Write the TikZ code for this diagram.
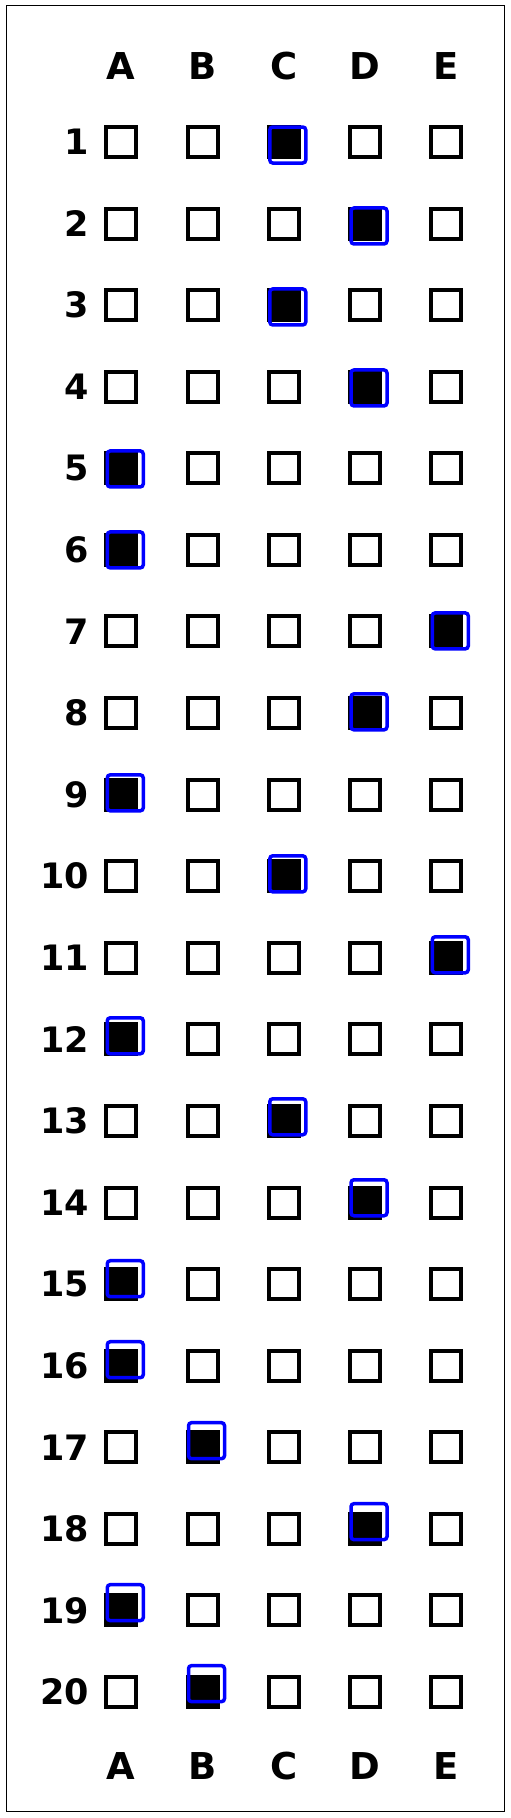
\documentclass[tikz,border=0pt]{standalone}
\usepackage{fontspec}
\setmainfont{DejaVu Sans}
\usetikzlibrary{calc}

\begin{document}
\begin{tikzpicture}[x=1pt,y=-1pt,
  optbox/.style={draw,line width=4pt,minimum size=30pt,inner sep=0pt},
  pickbox/.style={draw=blue,line width=3.5pt,rounded corners=3pt,minimum size=36pt,inner sep=0pt},
  letter/.style={font=\bfseries\fontsize{37}{40}\selectfont,inner sep=0pt},
  number/.style={font=\bfseries\fontsize{35}{40}\selectfont,inner sep=0pt,anchor=east}]
  \useasboundingbox (0,0) rectangle (511,1818);
  % Frame
  \draw[line width=1pt] (6,5.5) rectangle (504.5,1811.5);
  % Column letters, top and bottom
  \foreach \l [count=\c] in {A,B,C,D,E}{
    \node[letter] (top-\c) at (40+81.25*\c,66) {\l};
    \node[letter] (bot-\c) at (40+81.25*\c,1766) {\l};
  }
  % Rows: number and five boxes
  \foreach \r in {1,...,20}{
    \node[number] (num-\r) at (89,60.42+81.58*\r) {\r};
    \foreach \c in {1,...,5}
      \node[optbox] (box-\r-\c) at (40+81.25*\c,60.42+81.58*\r) {};
  }
  % Marked answers
  \foreach \r/\c in {1/3,2/4,3/3,4/4,5/1,6/1,7/5,8/4,9/1,10/3,
                     11/5,12/1,13/3,14/4,15/1,16/1,17/2,18/4,19/1,20/2}{
    \fill (box-\r-\c.south west) rectangle (box-\r-\c.north east);
    \node[pickbox] (pick-\r) at ($(box-\r-\c)+(4,3.6-0.6*\r)$) {};
  }
\end{tikzpicture}
\end{document}
